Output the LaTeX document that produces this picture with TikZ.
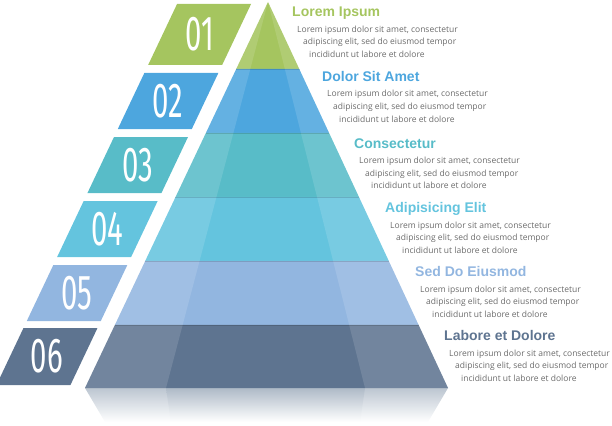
\documentclass[tikz,border=0pt]{standalone}
\usepackage{fontspec}
\setmainfont{Open Sans}
\newfontfamily\headfont{Liberation Sans}
\newfontfamily\numfont{Fira Sans}
\usetikzlibrary{calc}
\definecolor{cA}{HTML}{A5C55F}
\definecolor{cB}{HTML}{4DA6DE}
\definecolor{cC}{HTML}{58BCC8}
\definecolor{cD}{HTML}{64C4DE}
\definecolor{cE}{HTML}{92B6E0}
\definecolor{cF}{HTML}{5E7490}
\definecolor{txt}{HTML}{6B6B6B}
\definecolor{reflA}{HTML}{BCC6D1}
\definecolor{reflB}{HTML}{AEBAC7}
\tikzset{
  numtxt/.style={font=\numfont\fontsize{49}{49}\selectfont, text=white, inner sep=0pt, anchor=center},
  headtxt/.style={font=\headfont\bfseries\fontsize{14}{14}\selectfont, anchor=base west, inner sep=0pt},
  bodytxt/.style={font=\fontsize{8.5}{8.5}\selectfont, text=txt, anchor=base west, inner sep=0pt},
  shadowline/.style={draw=black, draw opacity=0.14, line width=1.3pt},
  sidestrip/.style={fill=white, fill opacity=0.13}
}
\newcommand{\NumBox}[5]{%
  \pgfmathsetmacro{\NBtr}{268-0.474*(#2-2)-16}%
  \pgfmathsetmacro{\NBbr}{\NBtr-0.474*(#3-#2)}%
  \fill[#4] (\NBtr,#2) -- (\NBbr,#3) -- ({\NBbr-74},#3) -- ({\NBtr-74},#2) -- cycle;
  \node[numtxt] (#1) at ({(\NBtr+\NBbr)/2-37},{(#2+#3)/2}) {\scalebox{0.6}[1]{#5}};
}
\newcommand{\TextRow}[6]{% name, x, baseline, colour, heading, (unused)
  \node[headtxt, text=#4] (#1h) at (#2,#3) {#5};
  \node[bodytxt] (#1a) at ({#2+5},{#3+15.5}) {Lorem ipsum dolor sit amet, consectetur};
  \node[bodytxt] (#1b) at ({#2+11},{#3+28}) {adipiscing elit, sed do eiusmod tempor};
  \node[bodytxt] (#1c) at ({#2+17},{#3+40.5}) {incididunt ut labore et dolore};
}
\begin{document}
\begin{tikzpicture}[x=1pt, y=-1pt]
\useasboundingbox (0,0) rectangle (612,425);
\clip (0,0) rectangle (612,425);
% key points
\coordinate (apex) at (268,2);
\coordinate (BL) at (85,388);
\coordinate (BR) at (448,388);
\coordinate (ML) at (166,388);
\coordinate (MR) at (365,388);
% reflection
\shade[top color=reflA, bottom color=white] (85,388) -- (448,388) -- (428,422) -- (105,422) -- cycle;
\shade[top color=reflB, bottom color=white] (166,388) -- (365,388) -- (360,422) -- (171,422) -- cycle;
% layers
\foreach \ya/\yb/\col in {2/69/cA, 69/133/cB, 133/197/cC, 197/261/cD, 261/325/cE, 325/388/cF}{
  \pgfmathsetmacro{\ta}{(\ya-2)/386}
  \pgfmathsetmacro{\tb}{(\yb-2)/386}
  \fill[\col] ($(apex)!\ta!(BL)$) -- ($(apex)!\tb!(BL)$) -- ($(apex)!\tb!(BR)$) -- ($(apex)!\ta!(BR)$) -- cycle;
}
% lighter side strips
\fill[sidestrip] (apex) -- (BL) -- (ML) -- cycle;
\fill[sidestrip] (apex) -- (MR) -- (BR) -- cycle;
% layer separator shadows
\foreach \yy in {69,133,197,261,325}{
  \pgfmathsetmacro{\tt}{(\yy-2+0.6)/386}
  \draw[shadowline] ($(apex)!\tt!(BL)$) -- ($(apex)!\tt!(BR)$);
}
% number boxes
\NumBox{n1}{4}{65}{cA}{01}
\NumBox{n2}{73}{129}{cB}{02}
\NumBox{n3}{137}{193}{cC}{03}
\NumBox{n4}{201}{257}{cD}{04}
\NumBox{n5}{265}{321}{cE}{05}
\NumBox{n6}{328}{385}{cF}{06}
% texts
\TextRow{r1}{292}{17}{cA}{Lorem Ipsum}{}
\TextRow{r2}{322}{81.5}{cB}{Dolor Sit Amet}{}
\TextRow{r3}{354}{148}{cC}{Consectetur}{}
\TextRow{r4}{385}{212.5}{cD}{Adipisicing Elit}{}
\TextRow{r5}{415}{276.5}{cE}{Sed Do Eiusmod}{}
\TextRow{r6}{444}{340.5}{cF}{Labore et Dolore}{}
\end{tikzpicture}
\end{document}
